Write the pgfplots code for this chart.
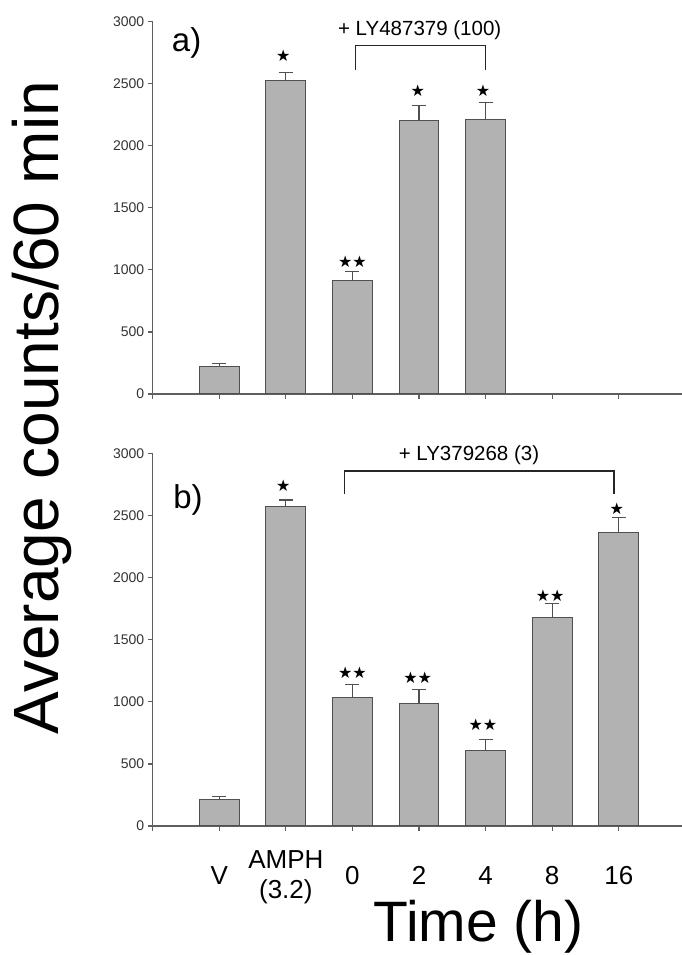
\documentclass[border=0pt]{standalone}
\usepackage{pgfplots}
\pgfplotsset{compat=1.18}
\usepackage{fontspec}
\setmainfont{Liberation Sans}
\newfontfamily\symfont{DejaVu Sans}
\definecolor{barfill}{RGB}{178,178,178}
\definecolor{bardraw}{RGB}{80,80,80}
\definecolor{axcol}{RGB}{95,95,95}

\pgfplotstableread{
x y e
0 220 23
1 2530 60
2 915 72
3 2200 122
4 2210 138
}\dataA
\pgfplotstableread{
x y e
0 217 20
1 2572 55
2 1035 107
3 990 112
4 610 88
5 1680 115
6 2368 120
}\dataB

\tikzset{signode/.style={font=\symfont\fontsize{16}{18}\selectfont}}
\pgfplotsset{
 panel/.style={
  scale only axis, width=529.3pt, height=372.3pt,
  xmin=-1, xmax=6.95, ymin=0, ymax=3000,
  axis lines*=left,
  axis line style={axcol, line width=1.4pt},
  xtick={-1,0,...,6}, ytick={0,500,...,3000},
  tick align=outside, major tick length=5pt,
  tick style={axcol, line width=1.2pt},
  /pgf/number format/assume math mode=true,
  /pgf/number format/1000 sep={},
  yticklabel style={font=\fontsize{14}{15}\selectfont, text=black!80},
  clip=false,
 },
 bars/.style={
  ybar, bar width=0.6, fill=barfill, draw=bardraw, line width=1pt,
  error bars/.cd, y dir=plus, y explicit,
  error bar style={bardraw, line width=1.2pt},
  error mark options={rotate=90, mark size=7pt, bardraw, line width=1.2pt},
 },
 bracket/.style={black!85, line width=1.3pt, sharp plot, mark=none},
}

\begin{document}
\begin{tikzpicture}[x=1pt,y=1pt]
\useasboundingbox (0,0) rectangle (682,955);

% panel a
\begin{axis}[panel, at={(152.7pt,561pt)}, anchor=south west, xticklabels={}]
\addplot[bars] table[x=x, y=y, y error=e] {\dataA};
\addplot[bracket] coordinates {(2.05,2613) (2.05,2809) (4,2809) (4,2613)};
\node[font=\fontsize{20.5}{24}\selectfont] at (axis cs:3.01,2930) {+ LY487379 (100)};
\node[font=\fontsize{33}{36}\selectfont] at (axis cs:-0.49,2830) {a)};
\node[signode] at (axis cs:0.96,2724) {★};
\node[signode] at (axis cs:2,1068) {★★};
\node[signode] at (axis cs:2.98,2444) {★};
\node[signode] at (axis cs:3.96,2444) {★};
\end{axis}

% panel b
\begin{axis}[panel, at={(152.7pt,129pt)}, anchor=south west,
  xticklabels={,V,{$\vcenter{\hbox{\begin{tabular}{@{}c@{}}AMPH\\(3.2)\end{tabular}}}$},0,2,4,8,16},
  xticklabel style={anchor=base, yshift=-53pt,
    font=\fontsize{26}{30}\selectfont}]
\addplot[bars] table[x=x, y=y, y error=e] {\dataB};
\addplot[bracket] coordinates {(1.88,2674) (1.88,2861) (5.93,2861) (5.93,2674)};
\node[font=\fontsize{20.5}{24}\selectfont] at (axis cs:3.75,2984) {+ LY379268 (3)};
\node[font=\fontsize{33}{36}\selectfont] at (axis cs:-0.47,2630) {b)};
\node[signode] at (axis cs:0.96,2741) {★};
\node[signode] at (axis cs:2,1232) {★★};
\node[signode] at (axis cs:2.98,1195) {★★};
\node[signode] at (axis cs:3.96,812) {★★};
\node[signode] at (axis cs:4.97,1857) {★★};
\node[signode] at (axis cs:5.97,2553) {★};
\end{axis}

\node[rotate=90, anchor=base, font=\fontsize{64}{70}\selectfont] at (58,547.5) {Average counts/60 min};
\node[anchor=base, font=\fontsize{57}{62}\selectfont] at (478.6,13.3) {Time (h)};
\end{tikzpicture}
\end{document}
